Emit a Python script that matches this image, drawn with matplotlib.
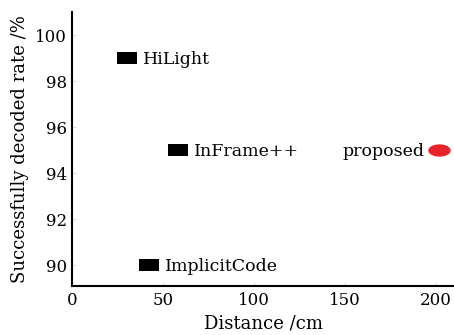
import matplotlib.pyplot as plt
import numpy as np
from matplotlib.path import Path

plt.rcParams['font.family'] = ['DejaVu Serif']

methods = ["HiLight", "InFrame++", "ImplicitCode"]
dist = [30, 58, 42]
rate = [99, 95, 90]
prop_dist = [202]
prop_rate = [95]

rect = Path([(-1, -0.55), (1, -0.55), (1, 0.55), (-1, 0.55), (-1, -0.55)], closed=True)
t = np.linspace(0, 2 * np.pi, 60)
ellipse = Path(np.column_stack([np.cos(t), 0.55 * np.sin(t)]))

fig = plt.figure(figsize=(4.54, 3.35), dpi=100)
ax = fig.add_axes([0.159, 0.146, 0.841, 0.818])

ax.scatter(dist, rate, marker=rect, s=215, color="black", linewidths=0)
ax.scatter(prop_dist, prop_rate, marker=ellipse, s=260, color="#e8242a", linewidths=0)

for x, y, name in zip(dist, rate, methods):
    ax.text(x + 9, y - 0.05, name, fontsize=12.5, va="center", ha="left")
ax.text(prop_dist[0] - 8, prop_rate[0] - 0.05, "proposed", fontsize=12.5, va="center", ha="right")

ax.set_xlim(0, 210)
ax.set_ylim(89.1, 101)
ax.set_xticks([0, 50, 100, 150, 200])
ax.set_yticks([90, 92, 94, 96, 98, 100])
ax.tick_params(direction="in", length=3, color="#dddddd", labelsize=12, pad=4)
for s in ["top", "right"]:
    ax.spines[s].set_visible(False)
for s in ["left", "bottom"]:
    ax.spines[s].set_linewidth(1.5)

ax.set_xlabel("Distance /cm", fontsize=13, labelpad=4)
ax.set_ylabel("Successfully decoded rate /%", fontsize=13, labelpad=4)

fig.savefig("out.png", dpi=100)
